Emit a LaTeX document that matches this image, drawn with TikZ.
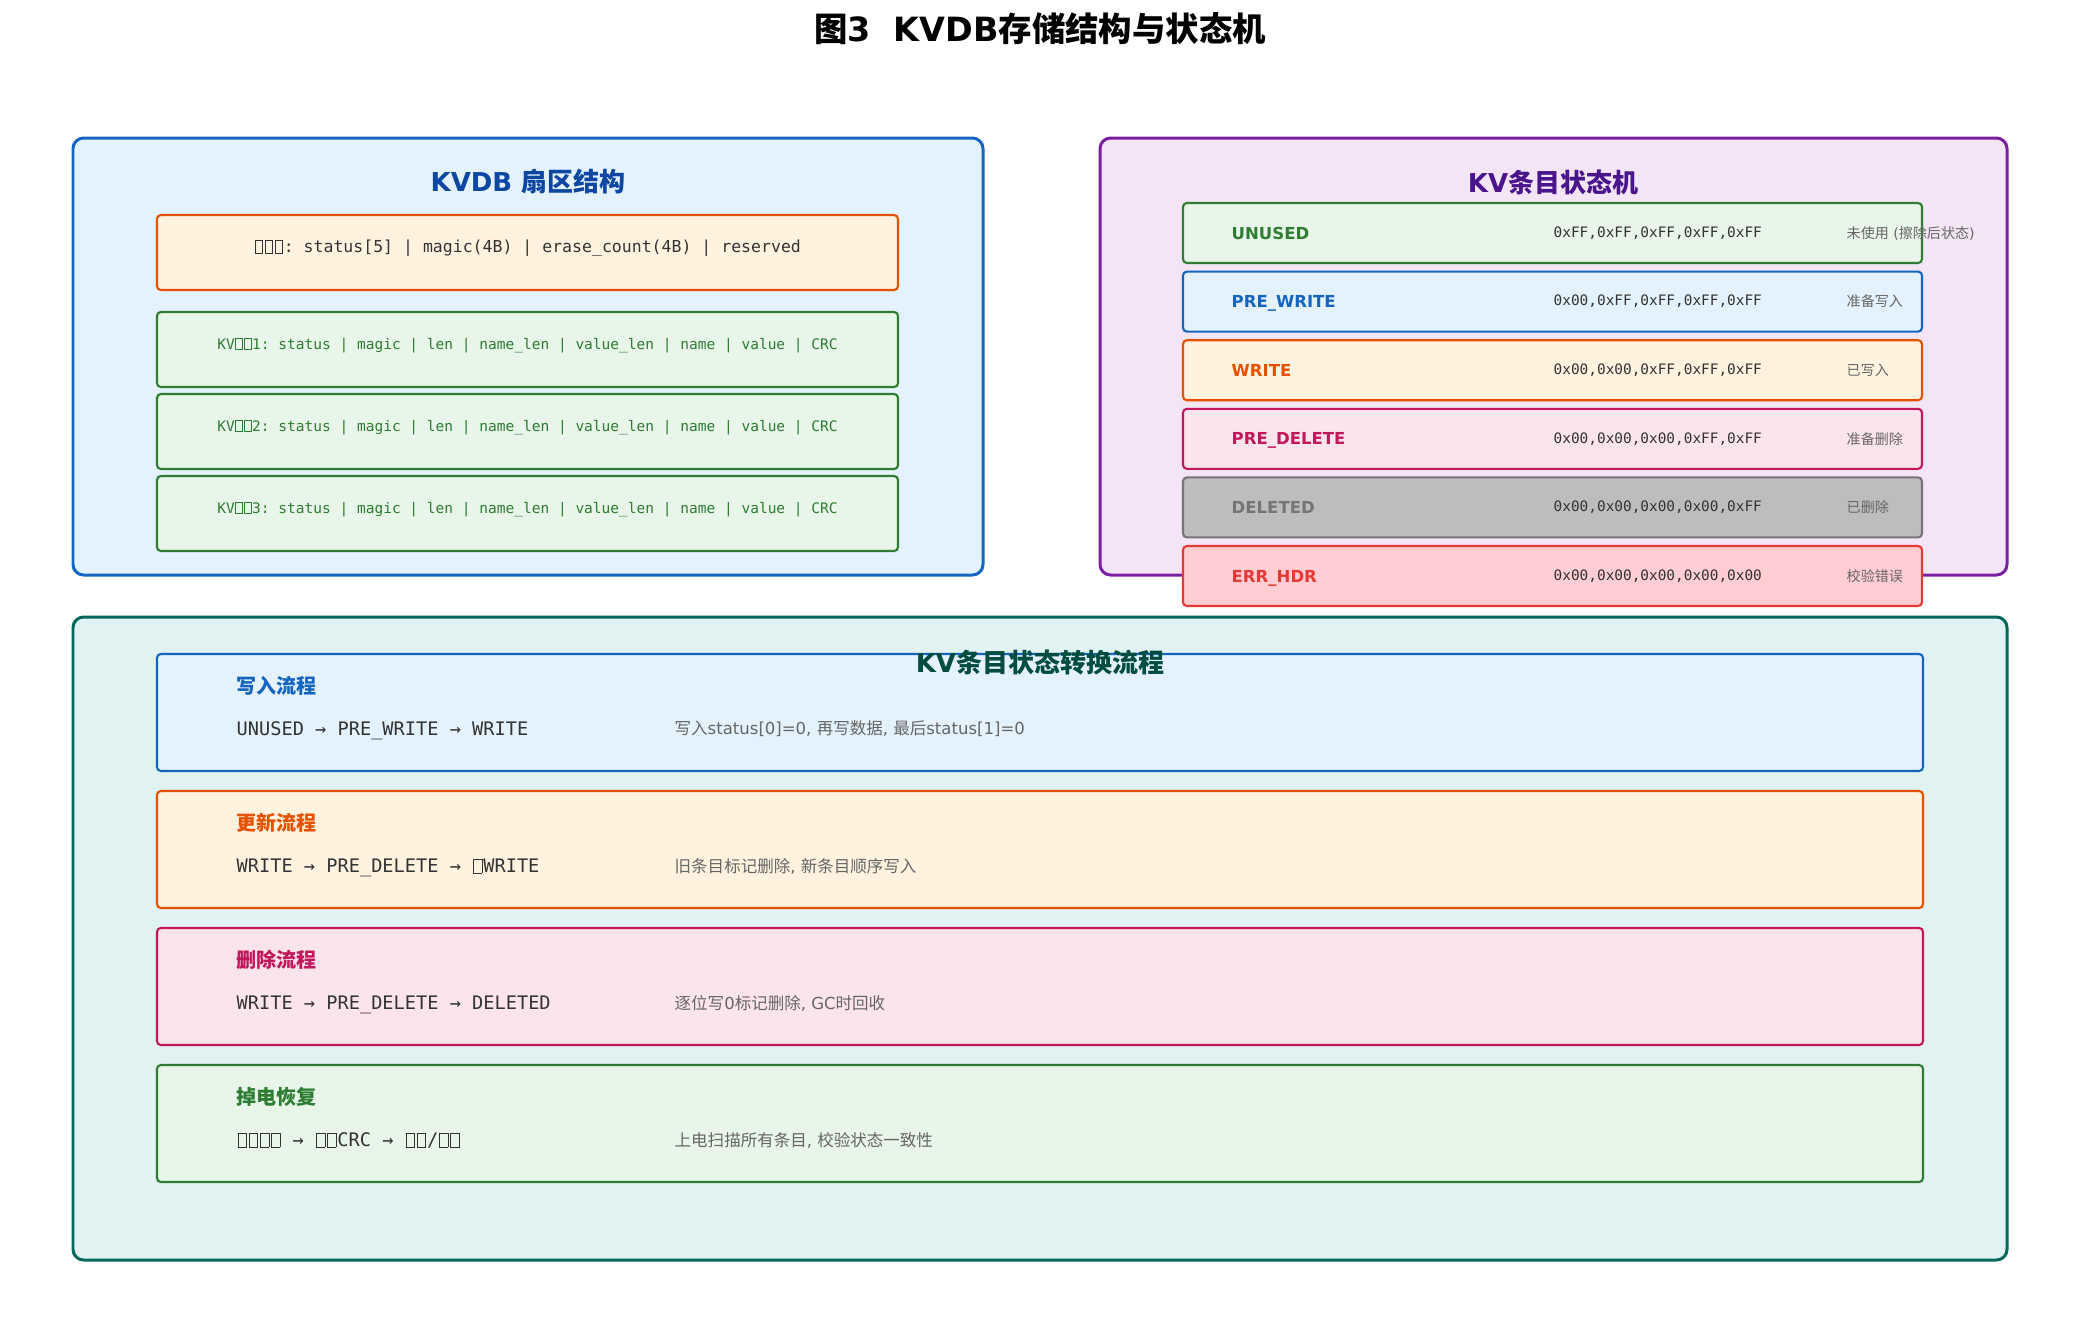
\documentclass[tikz,border=0pt]{standalone}
\usepackage{fontspec}
\setmainfont{DejaVu Sans}
\setmonofont{DejaVu Sans Mono}
\newfontfamily\cjk{Noto Sans CJK SC}
\usetikzlibrary{positioning}
\definecolor{blueline}{HTML}{1565C0}
\definecolor{bluefill}{HTML}{E3F2FD}
\definecolor{bluetitle}{HTML}{0D47A1}
\definecolor{purpleline}{HTML}{7B1FA2}
\definecolor{purplefill}{HTML}{F3E5F5}
\definecolor{purpletitle}{HTML}{4A148C}
\definecolor{tealline}{HTML}{00695C}
\definecolor{tealfill}{HTML}{E0F2F1}
\definecolor{tealtitle}{HTML}{004D40}
\definecolor{greenline}{HTML}{2E7D32}
\definecolor{greenfill}{HTML}{E8F5E9}
\definecolor{orangeline}{HTML}{E65100}
\definecolor{orangefill}{HTML}{FFF3E0}
\definecolor{pinkline}{HTML}{C2185B}
\definecolor{pinkfill}{HTML}{FCE4EC}
\definecolor{greyline}{HTML}{757575}
\definecolor{greyfill}{HTML}{BDBDBD}
\definecolor{redline}{HTML}{E53935}
\definecolor{redfill}{HTML}{FFCDD2}
\definecolor{codetext}{HTML}{333333}
\definecolor{notetext}{HTML}{666666}
% missing glyph box
\newcommand{\tofu}{\makebox[0.6em]{\setlength{\fboxsep}{0pt}\setlength{\fboxrule}{0.2pt}\fbox{\vphantom{X}\hspace{0.42em}}}}

\begin{document}
\begin{tikzpicture}[
        y=-1cm,
        panel/.style={draw,line width=0.85pt,rounded corners=3pt,anchor=north west,inner sep=0pt,outer sep=0pt},
        cell/.style={draw,line width=0.6pt,rounded corners=1.1pt,anchor=north west,inner sep=0pt,outer sep=0pt},
        paneltitle/.style={font=\bfseries\fontsize{7.4}{9}\selectfont,inner sep=0pt},
        kvtext/.style={font=\ttfamily\fontsize{4.13}{5}\selectfont,text=greenline,inner sep=0pt},
        statename/.style={font=\bfseries\fontsize{4.7}{6}\selectfont,inner sep=0pt,anchor=west,text height=3.43pt,text depth=0pt},
        hexcode/.style={font=\ttfamily\fontsize{4.1}{5}\selectfont,text=codetext,inner sep=0pt,anchor=west},
        statenote/.style={font=\fontsize{4.0}{5}\selectfont,text=notetext,inner sep=0pt,anchor=west},
        flowtitle/.style={font=\bfseries\fontsize{5.7}{7}\selectfont,inner sep=0pt,anchor=west},
        flowcode/.style={font=\ttfamily\fontsize{5.3}{6}\selectfont,text=codetext,inner sep=0pt,anchor=west,text height=3.87pt,text depth=0pt},
        flownote/.style={font=\fontsize{4.7}{6}\selectfont,text=notetext,inner sep=0pt,anchor=west}
    ]
        \useasboundingbox (0,0) rectangle (20.8,13.3);

        % Title
        \node[font=\bfseries\fontsize{9.5}{11}\selectfont,inner sep=0pt] (title) at (10.40,0.29) {{\cjk 图}3\ \ KVDB{\cjk 存储结构与状态机}};

        % Sector layout
        \node[panel,draw=blueline,fill=bluefill,minimum width=9.10cm,minimum height=4.37cm] (sector) at (0.73,1.38) {};
        \node[paneltitle,text=bluetitle] (sectortitle) at (5.28,1.82) {KVDB {\cjk 扇区结构}};
        \node[cell,draw=orangeline,fill=orangefill,minimum width=7.41cm,minimum height=0.75cm] (hdr) at (1.57,2.15) {};
        \node[font=\ttfamily\fontsize{4.7}{6}\selectfont,text=codetext,inner sep=0pt] (hdrtext) at ([yshift=0.04cm]hdr.center) {\tofu\tofu\tofu: status[5] | magic(4B) | erase\_count(4B) | reserved};

        % KV entries
        \node[cell,draw=greenline,fill=greenfill,minimum width=7.41cm,minimum height=0.75cm] (kv1) at (1.57,3.12) {};
        \node[cell,draw=greenline,fill=greenfill,minimum width=7.41cm,minimum height=0.75cm,below=0.07cm of kv1] (kv2) {};
        \node[cell,draw=greenline,fill=greenfill,minimum width=7.41cm,minimum height=0.75cm,below=0.07cm of kv2] (kv3) {};
        \node[kvtext] (kv1text) at ([yshift=0.04cm]kv1.center) {KV\tofu\tofu1: status | magic | len | name\_len | value\_len | name | value | CRC};
        \node[kvtext] (kv2text) at ([yshift=0.04cm]kv2.center) {KV\tofu\tofu2: status | magic | len | name\_len | value\_len | name | value | CRC};
        \node[kvtext] (kv3text) at ([yshift=0.04cm]kv3.center) {KV\tofu\tofu3: status | magic | len | name\_len | value\_len | name | value | CRC};

        % State machine
        \node[panel,draw=purpleline,fill=purplefill,minimum width=9.07cm,minimum height=4.37cm] (states) at (11.00,1.38) {};
        \node[paneltitle,text=purpletitle] (statestitle) at (15.53,1.82) {KV{\cjk 条目状态机}};

        \node[cell,draw=greenline,fill=greenfill,minimum width=7.39cm,minimum height=0.60cm] (unused) at (11.83,2.03) {};
        \node[cell,draw=blueline,fill=bluefill,minimum width=7.39cm,minimum height=0.60cm,below=0.086cm of unused] (prewrite) {};
        \node[cell,draw=orangeline,fill=orangefill,minimum width=7.39cm,minimum height=0.60cm,below=0.086cm of prewrite] (write) {};
        \node[cell,draw=pinkline,fill=pinkfill,minimum width=7.39cm,minimum height=0.60cm,below=0.086cm of write] (predel) {};
        \node[cell,draw=greyline,fill=greyfill,minimum width=7.39cm,minimum height=0.60cm,below=0.086cm of predel] (deleted) {};
        \node[cell,draw=redline,fill=redfill,minimum width=7.39cm,minimum height=0.60cm,below=0.086cm of deleted] (errhdr) {};

        \node[statename,text=greenline] (unusedname) at ([xshift=0.48cm]unused.west) {UNUSED};
        \node[hexcode] (unusedhex) at ([xshift=3.70cm]unused.west) {0xFF,0xFF,0xFF,0xFF,0xFF};
        \node[statenote] (unusednote) at ([xshift=6.63cm]unused.west) {{\cjk 未使用} ({\cjk 擦除后状态})};

        \node[statename,text=blueline] (prewritename) at ([xshift=0.48cm]prewrite.west) {PRE\_WRITE};
        \node[hexcode] (prewritehex) at ([xshift=3.70cm]prewrite.west) {0x00,0xFF,0xFF,0xFF,0xFF};
        \node[statenote] (prewritenote) at ([xshift=6.63cm]prewrite.west) {\cjk 准备写入};

        \node[statename,text=orangeline] (writename) at ([xshift=0.48cm]write.west) {WRITE};
        \node[hexcode] (writehex) at ([xshift=3.70cm]write.west) {0x00,0x00,0xFF,0xFF,0xFF};
        \node[statenote] (writenote) at ([xshift=6.63cm]write.west) {\cjk 已写入};

        \node[statename,text=pinkline] (predelname) at ([xshift=0.48cm]predel.west) {PRE\_DELETE};
        \node[hexcode] (predelhex) at ([xshift=3.70cm]predel.west) {0x00,0x00,0x00,0xFF,0xFF};
        \node[statenote] (predelnote) at ([xshift=6.63cm]predel.west) {\cjk 准备删除};

        \node[statename,text=greyline] (deletedname) at ([xshift=0.48cm]deleted.west) {DELETED};
        \node[hexcode] (deletedhex) at ([xshift=3.70cm]deleted.west) {0x00,0x00,0x00,0x00,0xFF};
        \node[statenote] (deletednote) at ([xshift=6.63cm]deleted.west) {\cjk 已删除};

        \node[statename,text=redline] (errhdrname) at ([xshift=0.48cm]errhdr.west) {ERR\_HDR};
        \node[hexcode] (errhdrhex) at ([xshift=3.70cm]errhdr.west) {0x00,0x00,0x00,0x00,0x00};
        \node[statenote] (errhdrnote) at ([xshift=6.63cm]errhdr.west) {\cjk 校验错误};

        % Transition flows
        \node[panel,draw=tealline,fill=tealfill,minimum width=19.34cm,minimum height=6.43cm] (flows) at (0.73,6.17) {};

        \node[cell,draw=blueline,fill=bluefill,minimum width=17.66cm,minimum height=1.17cm] (wflow) at (1.57,6.54) {};
        \node[cell,draw=orangeline,fill=orangefill,minimum width=17.66cm,minimum height=1.17cm,below=0.20cm of wflow] (uflow) {};
        \node[cell,draw=pinkline,fill=pinkfill,minimum width=17.66cm,minimum height=1.17cm,below=0.20cm of uflow] (dflow) {};
        \node[cell,draw=greenline,fill=greenfill,minimum width=17.66cm,minimum height=1.17cm,below=0.20cm of dflow] (rflow) {};

        \node[flowtitle,text=blueline] (wtitle) at ([shift={(0.79,0.32)}]wflow.north west) {\cjk 写入流程};
        \node[flowcode] (wcode) at ([shift={(0.79,0.75)}]wflow.north west) {UNUSED → PRE\_WRITE → WRITE};
        \node[flownote] (wnote) at ([shift={(5.17,0.75)}]wflow.north west) {{\cjk 写入}status[0]=0, {\cjk 再写数据}, {\cjk 最后}status[1]=0};

        \node[flowtitle,text=orangeline] (utitle) at ([shift={(0.79,0.32)}]uflow.north west) {\cjk 更新流程};
        \node[flowcode] (ucode) at ([shift={(0.79,0.75)}]uflow.north west) {WRITE → PRE\_DELETE → \tofu WRITE};
        \node[flownote] (unote) at ([shift={(5.17,0.75)}]uflow.north west) {{\cjk 旧条目标记删除}, {\cjk 新条目顺序写入}};

        \node[flowtitle,text=pinkline] (dtitle) at ([shift={(0.79,0.32)}]dflow.north west) {\cjk 删除流程};
        \node[flowcode] (dcode) at ([shift={(0.79,0.75)}]dflow.north west) {WRITE → PRE\_DELETE → DELETED};
        \node[flownote] (dnote) at ([shift={(5.17,0.75)}]dflow.north west) {{\cjk 逐位写}0{\cjk 标记删除}, GC{\cjk 时回收}};

        \node[flowtitle,text=greenline] (rtitle) at ([shift={(0.79,0.32)}]rflow.north west) {\cjk 掉电恢复};
        \node[flowcode] (rcode) at ([shift={(0.79,0.75)}]rflow.north west) {\tofu\tofu\tofu\tofu\ → \tofu\tofu CRC → \tofu\tofu/\tofu\tofu};
        \node[flownote] (rnote) at ([shift={(5.17,0.75)}]rflow.north west) {{\cjk 上电扫描所有条目}, {\cjk 校验状态一致性}};

        \node[paneltitle,text=tealtitle] (flowstitle) at (10.40,6.63) {KV{\cjk 条目状态转换流程}};
    \end{tikzpicture}
\end{document}
